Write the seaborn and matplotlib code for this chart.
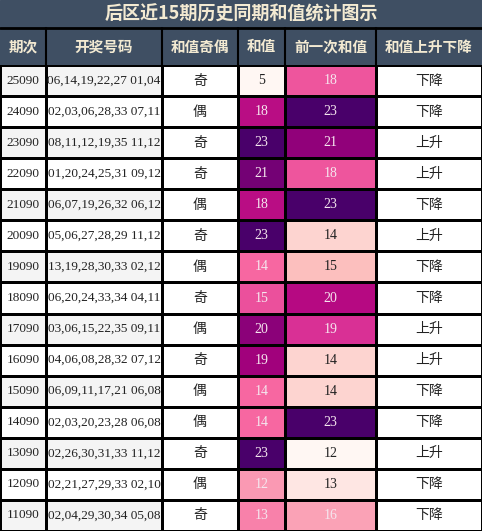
import numpy as np
import pandas as pd
import seaborn as sns
import matplotlib.pyplot as plt
from matplotlib.colors import ListedColormap
from matplotlib.patches import Rectangle

periods = ["25090", "24090", "23090", "22090", "21090", "20090", "19090", "18090",
           "17090", "16090", "15090", "14090", "13090", "12090", "11090"]
draws = ["06,14,19,22,27 01,04", "02,03,06,28,33 07,11", "08,11,12,19,35 11,12",
         "01,20,24,25,31 09,12", "06,07,19,26,32 06,12", "05,06,27,28,29 11,12",
         "13,19,28,30,33 02,12", "06,20,24,33,34 04,11", "03,06,15,22,35 09,11",
         "04,06,08,28,32 07,12", "06,09,11,17,21 06,08", "02,03,20,23,28 06,08",
         "02,26,30,31,33 11,12", "02,21,27,29,33 02,10", "02,04,29,30,34 05,08"]
parity = ["奇", "偶", "奇", "奇", "偶", "奇", "偶", "奇", "偶", "奇", "偶", "偶", "奇", "偶", "奇"]
sums = [5, 18, 23, 21, 18, 23, 14, 15, 20, 19, 14, 14, 23, 12, 13]
prev_sums = [18, 23, 21, 18, 23, 14, 15, 20, 19, 14, 14, 23, 12, 13, 16]
trend = ["下降", "下降", "上升", "上升", "下降", "上升", "下降", "下降",
         "上升", "上升", "下降", "下降", "上升", "下降", "下降"]
headers = ["期次", "开奖号码", "和值奇偶", "和值", "前一次和值", "和值上升下降"]

sns.set_theme(style="white")
plt.rcParams['font.family'] = ['Noto Sans CJK SC', 'DejaVu Sans']

W, H = 482, 531
edges = [0, 46, 162, 238, 285, 376, 482]
title_h, head_h = 28, 37
body_top = title_h + head_h
n = len(periods)

fig = plt.figure(figsize=(W / 100, H / 100), dpi=100)
bg = fig.add_axes([0, 0, 1, 1])
bg.set_xlim(0, W)
bg.set_ylim(H, 0)
bg.axis("off")
hdr = "#3f4f63"
bg.add_patch(Rectangle((0, 0), W, body_top, color=hdr))
bg.plot([0, W], [title_h, title_h], color="black", lw=2)
bg.text(W / 2, title_h / 2, "后区近15期历史同期和值统计图示", ha="center", va="center",
        color="#f3ead2", fontsize=13, fontweight="bold")
for i, h in enumerate(headers):
    bg.text((edges[i] + edges[i + 1]) / 2, title_h + head_h / 2, h, ha="center",
            va="center", color="#f3ead2", fontsize=10.5, fontweight="bold")
    if i > 0:
        bg.plot([edges[i], edges[i]], [title_h, body_top], color="black", lw=1.5)

stripe = np.array([[i % 2] for i in range(n)])
text_cols = [periods, draws, parity, None, None, trend]
for c in range(6):
    x0, x1 = edges[c], edges[c + 1]
    ax = fig.add_axes([x0 / W, 0, (x1 - x0) / W, (H - body_top) / H])
    if c in (3, 4):
        vals = np.array(sums if c == 3 else prev_sums).reshape(-1, 1)
        sns.heatmap(vals, ax=ax, cmap="RdPu", vmin=vals.min(), vmax=vals.max(), cbar=False,
                    annot=False, linewidths=1, linecolor="black")
        cmap = plt.get_cmap("RdPu")
        for r, v in enumerate(vals[:, 0]):
            t = (v - vals.min()) / (vals.max() - vals.min())
            ax.text(0.5, r + 0.5, str(v), ha="center", va="center", fontsize=10,
                    family="Liberation Serif", color="#f5e6ee" if t > 0.35 else "#222222")
    else:
        if c in (0, 1):
            cm = ListedColormap(["#f4f4f4", "#ffffff"])
            sns.heatmap(stripe, ax=ax, cmap=cm, vmin=0, vmax=1, cbar=False,
                        linewidths=1, linecolor="black")
        else:
            sns.heatmap(np.zeros((n, 1)), ax=ax, cmap=ListedColormap(["#ffffff"]), cbar=False,
                        linewidths=1, linecolor="black")
        fam = "Liberation Serif" if c < 2 else "Noto Sans CJK SC"
        for r, s in enumerate(text_cols[c]):
            ax.text(0.5, r + 0.5, s, ha="center", va="center", fontsize=9.5 if c < 2 else 10,
                    family=fam, color="#222222")
    ax.set_xticks([])
    ax.set_yticks([])

fig.savefig("out.png", dpi=100)
